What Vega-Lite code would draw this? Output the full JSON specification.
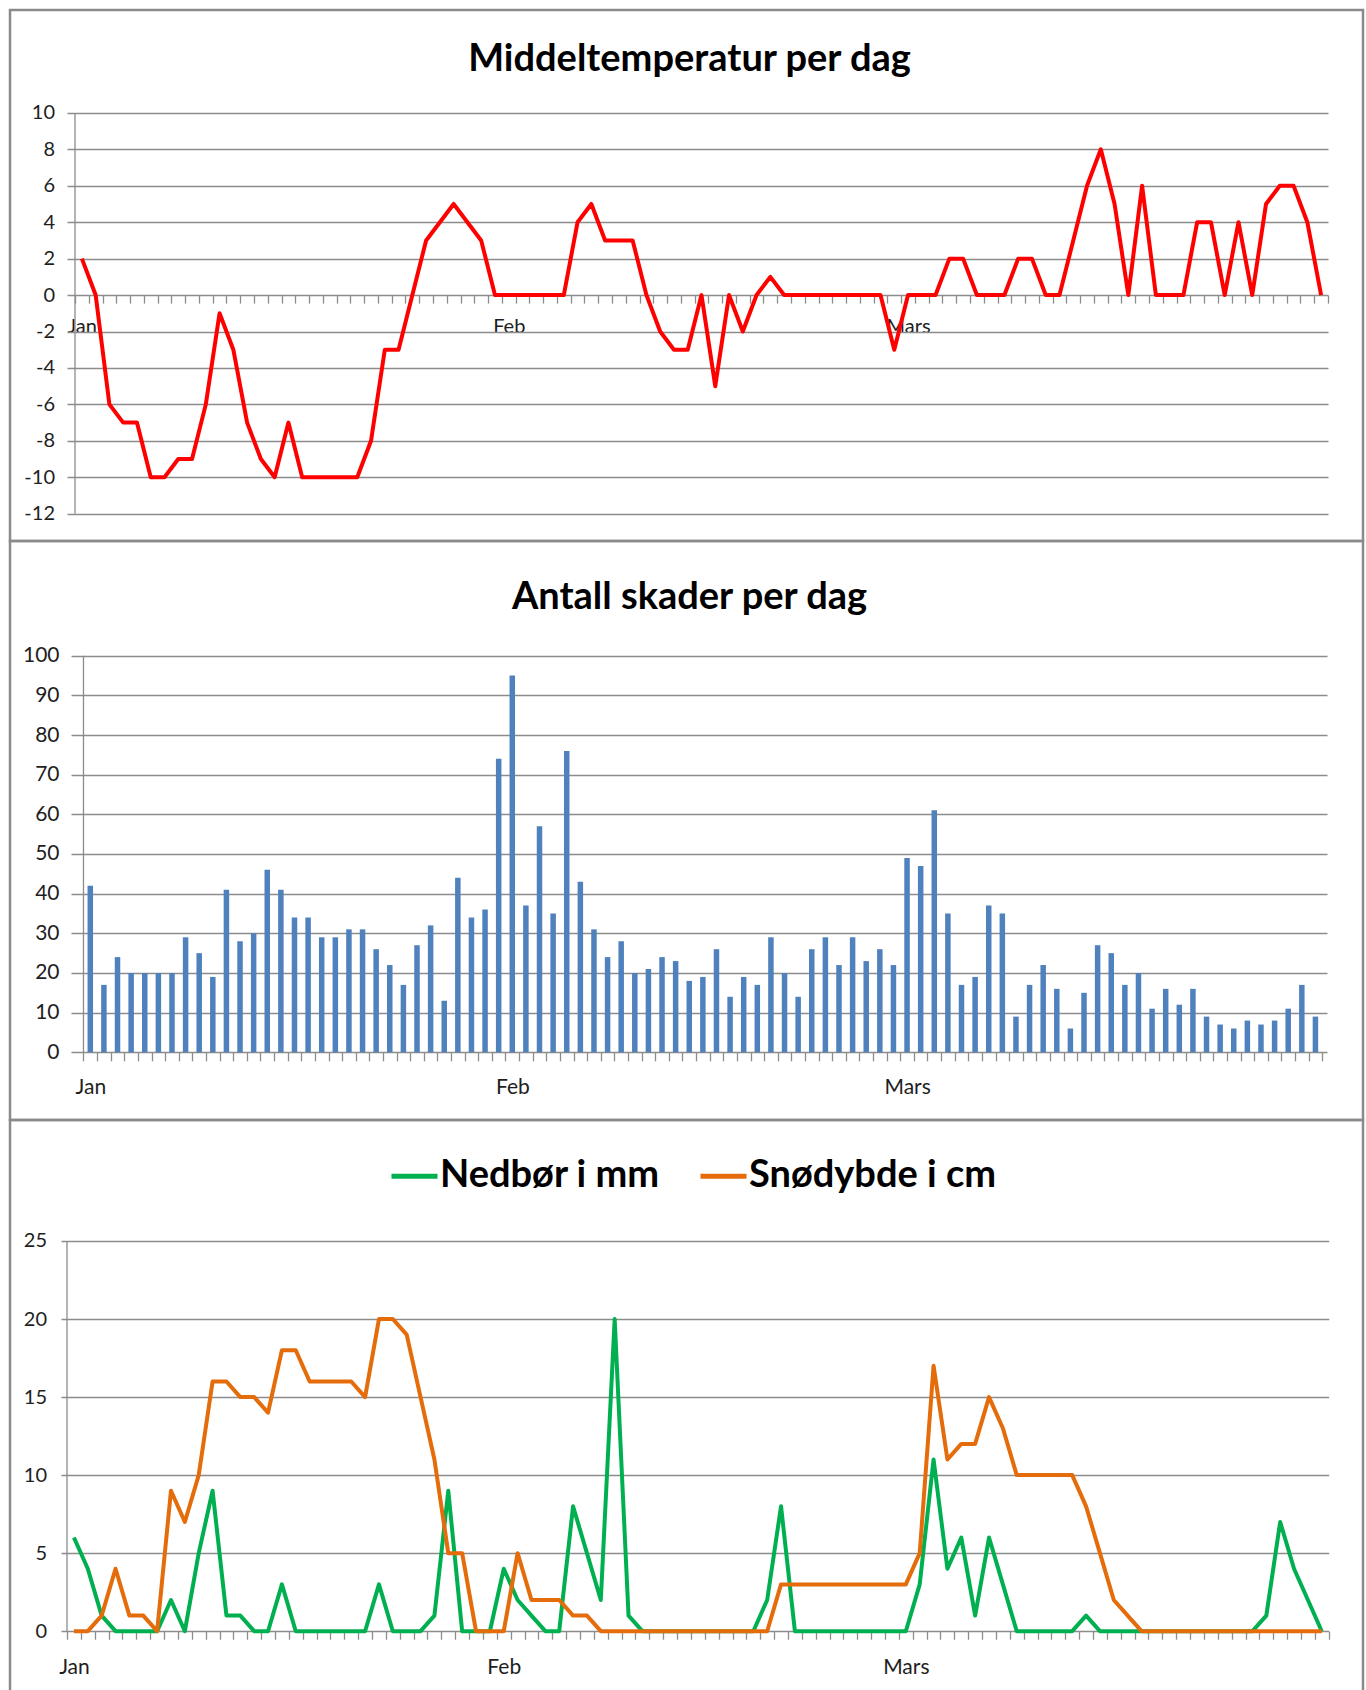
{
  "$schema": "https://vega.github.io/schema/vega-lite/v6.json",
  "background": "#ffffff",
  "padding": {"left": 8, "top": 8, "right": 0, "bottom": 0},
  "datasets": {
    "dager": [
      {"dato": "2012-01-01", "dag": 1, "temp": 2, "skader": 42, "nedbor": 6, "sno": 0},
      {"dato": "2012-01-02", "dag": 2, "temp": 0, "skader": 17, "nedbor": 4, "sno": 0},
      {"dato": "2012-01-03", "dag": 3, "temp": -6, "skader": 24, "nedbor": 1, "sno": 1},
      {"dato": "2012-01-04", "dag": 4, "temp": -7, "skader": 20, "nedbor": 0, "sno": 4},
      {"dato": "2012-01-05", "dag": 5, "temp": -7, "skader": 20, "nedbor": 0, "sno": 1},
      {"dato": "2012-01-06", "dag": 6, "temp": -10, "skader": 20, "nedbor": 0, "sno": 1},
      {"dato": "2012-01-07", "dag": 7, "temp": -10, "skader": 20, "nedbor": 0, "sno": 0},
      {"dato": "2012-01-08", "dag": 8, "temp": -9, "skader": 29, "nedbor": 2, "sno": 9},
      {"dato": "2012-01-09", "dag": 9, "temp": -9, "skader": 25, "nedbor": 0, "sno": 7},
      {"dato": "2012-01-10", "dag": 10, "temp": -6, "skader": 19, "nedbor": 5, "sno": 10},
      {"dato": "2012-01-11", "dag": 11, "temp": -1, "skader": 41, "nedbor": 9, "sno": 16},
      {"dato": "2012-01-12", "dag": 12, "temp": -3, "skader": 28, "nedbor": 1, "sno": 16},
      {"dato": "2012-01-13", "dag": 13, "temp": -7, "skader": 30, "nedbor": 1, "sno": 15},
      {"dato": "2012-01-14", "dag": 14, "temp": -9, "skader": 46, "nedbor": 0, "sno": 15},
      {"dato": "2012-01-15", "dag": 15, "temp": -10, "skader": 41, "nedbor": 0, "sno": 14},
      {"dato": "2012-01-16", "dag": 16, "temp": -7, "skader": 34, "nedbor": 3, "sno": 18},
      {"dato": "2012-01-17", "dag": 17, "temp": -10, "skader": 34, "nedbor": 0, "sno": 18},
      {"dato": "2012-01-18", "dag": 18, "temp": -10, "skader": 29, "nedbor": 0, "sno": 16},
      {"dato": "2012-01-19", "dag": 19, "temp": -10, "skader": 29, "nedbor": 0, "sno": 16},
      {"dato": "2012-01-20", "dag": 20, "temp": -10, "skader": 31, "nedbor": 0, "sno": 16},
      {"dato": "2012-01-21", "dag": 21, "temp": -10, "skader": 31, "nedbor": 0, "sno": 16},
      {"dato": "2012-01-22", "dag": 22, "temp": -8, "skader": 26, "nedbor": 0, "sno": 15},
      {"dato": "2012-01-23", "dag": 23, "temp": -3, "skader": 22, "nedbor": 3, "sno": 20},
      {"dato": "2012-01-24", "dag": 24, "temp": -3, "skader": 17, "nedbor": 0, "sno": 20},
      {"dato": "2012-01-25", "dag": 25, "temp": 0, "skader": 27, "nedbor": 0, "sno": 19},
      {"dato": "2012-01-26", "dag": 26, "temp": 3, "skader": 32, "nedbor": 0, "sno": 15},
      {"dato": "2012-01-27", "dag": 27, "temp": 4, "skader": 13, "nedbor": 1, "sno": 11},
      {"dato": "2012-01-28", "dag": 28, "temp": 5, "skader": 44, "nedbor": 9, "sno": 5},
      {"dato": "2012-01-29", "dag": 29, "temp": 4, "skader": 34, "nedbor": 0, "sno": 5},
      {"dato": "2012-01-30", "dag": 30, "temp": 3, "skader": 36, "nedbor": 0, "sno": 0},
      {"dato": "2012-01-31", "dag": 31, "temp": 0, "skader": 74, "nedbor": 0, "sno": 0},
      {"dato": "2012-02-01", "dag": 32, "temp": 0, "skader": 95, "nedbor": 4, "sno": 0},
      {"dato": "2012-02-02", "dag": 33, "temp": 0, "skader": 37, "nedbor": 2, "sno": 5},
      {"dato": "2012-02-03", "dag": 34, "temp": 0, "skader": 57, "nedbor": 1, "sno": 2},
      {"dato": "2012-02-04", "dag": 35, "temp": 0, "skader": 35, "nedbor": 0, "sno": 2},
      {"dato": "2012-02-05", "dag": 36, "temp": 0, "skader": 76, "nedbor": 0, "sno": 2},
      {"dato": "2012-02-06", "dag": 37, "temp": 4, "skader": 43, "nedbor": 8, "sno": 1},
      {"dato": "2012-02-07", "dag": 38, "temp": 5, "skader": 31, "nedbor": 5, "sno": 1},
      {"dato": "2012-02-08", "dag": 39, "temp": 3, "skader": 24, "nedbor": 2, "sno": 0},
      {"dato": "2012-02-09", "dag": 40, "temp": 3, "skader": 28, "nedbor": 20, "sno": 0},
      {"dato": "2012-02-10", "dag": 41, "temp": 3, "skader": 20, "nedbor": 1, "sno": 0},
      {"dato": "2012-02-11", "dag": 42, "temp": 0, "skader": 21, "nedbor": 0, "sno": 0},
      {"dato": "2012-02-12", "dag": 43, "temp": -2, "skader": 24, "nedbor": 0, "sno": 0},
      {"dato": "2012-02-13", "dag": 44, "temp": -3, "skader": 23, "nedbor": 0, "sno": 0},
      {"dato": "2012-02-14", "dag": 45, "temp": -3, "skader": 18, "nedbor": 0, "sno": 0},
      {"dato": "2012-02-15", "dag": 46, "temp": 0, "skader": 19, "nedbor": 0, "sno": 0},
      {"dato": "2012-02-16", "dag": 47, "temp": -5, "skader": 26, "nedbor": 0, "sno": 0},
      {"dato": "2012-02-17", "dag": 48, "temp": 0, "skader": 14, "nedbor": 0, "sno": 0},
      {"dato": "2012-02-18", "dag": 49, "temp": -2, "skader": 19, "nedbor": 0, "sno": 0},
      {"dato": "2012-02-19", "dag": 50, "temp": 0, "skader": 17, "nedbor": 0, "sno": 0},
      {"dato": "2012-02-20", "dag": 51, "temp": 1, "skader": 29, "nedbor": 2, "sno": 0},
      {"dato": "2012-02-21", "dag": 52, "temp": 0, "skader": 20, "nedbor": 8, "sno": 3},
      {"dato": "2012-02-22", "dag": 53, "temp": 0, "skader": 14, "nedbor": 0, "sno": 3},
      {"dato": "2012-02-23", "dag": 54, "temp": 0, "skader": 26, "nedbor": 0, "sno": 3},
      {"dato": "2012-02-24", "dag": 55, "temp": 0, "skader": 29, "nedbor": 0, "sno": 3},
      {"dato": "2012-02-25", "dag": 56, "temp": 0, "skader": 22, "nedbor": 0, "sno": 3},
      {"dato": "2012-02-26", "dag": 57, "temp": 0, "skader": 29, "nedbor": 0, "sno": 3},
      {"dato": "2012-02-27", "dag": 58, "temp": 0, "skader": 23, "nedbor": 0, "sno": 3},
      {"dato": "2012-02-28", "dag": 59, "temp": 0, "skader": 26, "nedbor": 0, "sno": 3},
      {"dato": "2012-02-29", "dag": 60, "temp": -3, "skader": 22, "nedbor": 0, "sno": 3},
      {"dato": "2012-03-01", "dag": 61, "temp": 0, "skader": 49, "nedbor": 0, "sno": 3},
      {"dato": "2012-03-02", "dag": 62, "temp": 0, "skader": 47, "nedbor": 3, "sno": 5},
      {"dato": "2012-03-03", "dag": 63, "temp": 0, "skader": 61, "nedbor": 11, "sno": 17},
      {"dato": "2012-03-04", "dag": 64, "temp": 2, "skader": 35, "nedbor": 4, "sno": 11},
      {"dato": "2012-03-05", "dag": 65, "temp": 2, "skader": 17, "nedbor": 6, "sno": 12},
      {"dato": "2012-03-06", "dag": 66, "temp": 0, "skader": 19, "nedbor": 1, "sno": 12},
      {"dato": "2012-03-07", "dag": 67, "temp": 0, "skader": 37, "nedbor": 6, "sno": 15},
      {"dato": "2012-03-08", "dag": 68, "temp": 0, "skader": 35, "nedbor": 3, "sno": 13},
      {"dato": "2012-03-09", "dag": 69, "temp": 2, "skader": 9, "nedbor": 0, "sno": 10},
      {"dato": "2012-03-10", "dag": 70, "temp": 2, "skader": 17, "nedbor": 0, "sno": 10},
      {"dato": "2012-03-11", "dag": 71, "temp": 0, "skader": 22, "nedbor": 0, "sno": 10},
      {"dato": "2012-03-12", "dag": 72, "temp": 0, "skader": 16, "nedbor": 0, "sno": 10},
      {"dato": "2012-03-13", "dag": 73, "temp": 3, "skader": 6, "nedbor": 0, "sno": 10},
      {"dato": "2012-03-14", "dag": 74, "temp": 6, "skader": 15, "nedbor": 1, "sno": 8},
      {"dato": "2012-03-15", "dag": 75, "temp": 8, "skader": 27, "nedbor": 0, "sno": 5},
      {"dato": "2012-03-16", "dag": 76, "temp": 5, "skader": 25, "nedbor": 0, "sno": 2},
      {"dato": "2012-03-17", "dag": 77, "temp": 0, "skader": 17, "nedbor": 0, "sno": 1},
      {"dato": "2012-03-18", "dag": 78, "temp": 6, "skader": 20, "nedbor": 0, "sno": 0},
      {"dato": "2012-03-19", "dag": 79, "temp": 0, "skader": 11, "nedbor": 0, "sno": 0},
      {"dato": "2012-03-20", "dag": 80, "temp": 0, "skader": 16, "nedbor": 0, "sno": 0},
      {"dato": "2012-03-21", "dag": 81, "temp": 0, "skader": 12, "nedbor": 0, "sno": 0},
      {"dato": "2012-03-22", "dag": 82, "temp": 4, "skader": 16, "nedbor": 0, "sno": 0},
      {"dato": "2012-03-23", "dag": 83, "temp": 4, "skader": 9, "nedbor": 0, "sno": 0},
      {"dato": "2012-03-24", "dag": 84, "temp": 0, "skader": 7, "nedbor": 0, "sno": 0},
      {"dato": "2012-03-25", "dag": 85, "temp": 4, "skader": 6, "nedbor": 0, "sno": 0},
      {"dato": "2012-03-26", "dag": 86, "temp": 0, "skader": 8, "nedbor": 0, "sno": 0},
      {"dato": "2012-03-27", "dag": 87, "temp": 5, "skader": 7, "nedbor": 1, "sno": 0},
      {"dato": "2012-03-28", "dag": 88, "temp": 6, "skader": 8, "nedbor": 7, "sno": 0},
      {"dato": "2012-03-29", "dag": 89, "temp": 6, "skader": 11, "nedbor": 4, "sno": 0},
      {"dato": "2012-03-30", "dag": 90, "temp": 4, "skader": 17, "nedbor": 2, "sno": 0},
      {"dato": "2012-03-31", "dag": 91, "temp": 0, "skader": 9, "nedbor": 0, "sno": 0}
    ]
  },
  "resolve": {"legend": {"color": "independent"}, "scale": {"color": "independent"}},
  "bounds": "flush",
  "spacing": 0,
  "vconcat": [
    {
      "width": 1353,
      "height": 531,
      "title": {"text": "Middeltemperatur per dag", "font": "Lato", "fontSize": 38, "fontWeight": "bold", "color": "#000000", "anchor": "middle", "frame": "group", "orient": "top", "baseline": "alphabetic", "offset": -99, "dx": 3},
      "layer": [
        {
          "data": {"name": "dager"},
          "mark": {"type": "line", "color": "#FF0000", "strokeWidth": 4, "strokeJoin": "round"},
          "encoding": {
            "x": {"field": "dag", "type": "quantitative", "scale": {"domain": [-4.2208, 94.043], "nice": false, "zero": false},
              "axis": {"orient": "bottom", "offset": -245.9, "title": null, "grid": false, "domain": false, "tickSize": 8, "tickColor": "#8c8c8c", "tickWidth": 1.3, "tickCount": 500,
                "values": [0.5,1.5,2.5,3.5,4.5,5.5,6.5,7.5,8.5,9.5,10.5,11.5,12.5,13.5,14.5,15.5,16.5,17.5,18.5,19.5,20.5,21.5,22.5,23.5,24.5,25.5,26.5,27.5,28.5,29.5,30.5,31.5,32.5,33.5,34.5,35.5,36.5,37.5,38.5,39.5,40.5,41.5,42.5,43.5,44.5,45.5,46.5,47.5,48.5,49.5,50.5,51.5,52.5,53.5,54.5,55.5,56.5,57.5,58.5,59.5,60.5,61.5,62.5,63.5,64.5,65.5,66.5,67.5,68.5,69.5,70.5,71.5,72.5,73.5,74.5,75.5,76.5,77.5,78.5,79.5,80.5,81.5,82.5,83.5,84.5,85.5,86.5,87.5,88.5,89.5,90.5,91.5],
                "labelExpr": "datum.value == 0.5 ? 'Jan' : datum.value == 31.5 ? 'Feb' : datum.value == 60.5 ? 'Mars' : ''",
                "labelOffset": 6.9, "labelPadding": 13, "labelAlign": "center", "labelBound": false, "labelFlush": false, "labelOverlap": false,
                "labelFont": "Lato", "labelFontSize": 20, "labelColor": "#1e1e1e"}},
            "y": {"field": "temp", "type": "quantitative", "scale": {"domain": [-13.499, 15.648], "nice": false, "zero": false},
              "axis": {"orient": "left", "offset": -1318, "title": null, "grid": false, "domain": false, "tickSize": 1261, "tickColor": "#8c8c8c", "tickWidth": 1.3,
                "values": [-12,-10,-8,-6,-4,-2,0,2,4,6,8,10], "labelExpr": "'' + datum.value", "labelPadding": 12.5, "labelOverlap": false, "labelBound": false,
                "labelFont": "Lato", "labelFontSize": 20, "labelColor": "#1e1e1e"}}
          }
        },
        {
          "data": {"values": [{}]},
          "mark": {"type": "rule", "color": "#8c8c8c", "strokeWidth": 1.3},
          "encoding": {
            "x": {"datum": 0.5, "type": "quantitative"},
            "y": {"datum": 10, "type": "quantitative"},
            "y2": {"datum": -12}
          }
        }
      ]
    },
    {
      "width": 1353,
      "height": 579,
      "title": {"text": "Antall skader per dag", "font": "Lato", "fontSize": 38, "fontWeight": "bold", "color": "#000000", "anchor": "middle", "frame": "group", "orient": "top", "baseline": "alphabetic", "offset": -105.8, "dx": 3},
      "layer": [
        {
          "data": {"name": "dager"},
          "mark": {"type": "bar", "color": "#4F81BD", "width": 5.5},
          "encoding": {
            "x": {"field": "dag", "type": "quantitative", "scale": {"domain": [-4.5314, 94.127], "nice": false, "zero": false},
              "axis": {"orient": "bottom", "offset": -67.7, "title": null, "grid": false, "domain": false, "tickSize": 8.5, "tickColor": "#8c8c8c", "tickWidth": 1.3, "tickCount": 500,
                "values": [0.5,1.5,2.5,3.5,4.5,5.5,6.5,7.5,8.5,9.5,10.5,11.5,12.5,13.5,14.5,15.5,16.5,17.5,18.5,19.5,20.5,21.5,22.5,23.5,24.5,25.5,26.5,27.5,28.5,29.5,30.5,31.5,32.5,33.5,34.5,35.5,36.5,37.5,38.5,39.5,40.5,41.5,42.5,43.5,44.5,45.5,46.5,47.5,48.5,49.5,50.5,51.5,52.5,53.5,54.5,55.5,56.5,57.5,58.5,59.5,60.5,61.5,62.5,63.5,64.5,65.5,66.5,67.5,68.5,69.5,70.5,71.5,72.5,73.5,74.5,75.5,76.5,77.5,78.5,79.5,80.5,81.5,82.5,83.5,84.5,85.5,86.5,87.5,88.5,89.5,90.5,91.5],
                "labelExpr": "datum.value == 0.5 ? 'Jan' : datum.value == 31.5 ? 'Feb' : datum.value == 60.5 ? 'Mars' : ''",
                "labelOffset": 6.86, "labelPadding": 15.3, "labelAlign": "center", "labelBound": false, "labelFlush": false, "labelOverlap": false,
                "labelFont": "Lato", "labelFontSize": 21, "labelColor": "#1e1e1e"}},
            "y": {"field": "skader", "type": "quantitative", "scale": {"domain": [-17.07, 128.92], "nice": false, "zero": false},
              "axis": {"orient": "left", "offset": -1317, "title": null, "grid": false, "domain": false, "tickSize": 1256, "tickColor": "#8c8c8c", "tickWidth": 1.3,
                "values": [0,10,20,30,40,50,60,70,80,90,100], "labelExpr": "'' + datum.value", "labelPadding": 12, "labelOverlap": false, "labelBound": false,
                "labelFont": "Lato", "labelFontSize": 21, "labelColor": "#1e1e1e"}},
            "y2": {"datum": 0}
          }
        },
        {
          "data": {"values": [{}]},
          "mark": {"type": "rule", "color": "#8c8c8c", "strokeWidth": 1.3},
          "encoding": {
            "x": {"datum": 0.5, "type": "quantitative"},
            "y": {"datum": 100, "type": "quantitative"},
            "y2": {"datum": 0}
          }
        }
      ]
    },
    {
      "width": 1353,
      "height": 581,
      "layer": [
        {
          "data": {"name": "dager"},
          "transform": [{"fold": ["nedbor", "sno"], "as": ["serie", "verdi"]}],
          "mark": {"type": "line", "strokeWidth": 4, "strokeJoin": "round"},
          "encoding": {
            "x": {"field": "dag", "type": "quantitative", "scale": {"domain": [-3.6111, 93.973], "nice": false, "zero": false},
              "axis": {"orient": "bottom", "offset": -69.8, "title": null, "grid": false, "domain": false, "tickSize": 8, "tickColor": "#8c8c8c", "tickWidth": 1.3, "tickCount": 500,
                "values": [0.5,1.5,2.5,3.5,4.5,5.5,6.5,7.5,8.5,9.5,10.5,11.5,12.5,13.5,14.5,15.5,16.5,17.5,18.5,19.5,20.5,21.5,22.5,23.5,24.5,25.5,26.5,27.5,28.5,29.5,30.5,31.5,32.5,33.5,34.5,35.5,36.5,37.5,38.5,39.5,40.5,41.5,42.5,43.5,44.5,45.5,46.5,47.5,48.5,49.5,50.5,51.5,52.5,53.5,54.5,55.5,56.5,57.5,58.5,59.5,60.5,61.5,62.5,63.5,64.5,65.5,66.5,67.5,68.5,69.5,70.5,71.5,72.5,73.5,74.5,75.5,76.5,77.5,78.5,79.5,80.5,81.5,82.5,83.5,84.5,85.5,86.5,87.5,88.5,89.5,90.5,91.5],
                "labelExpr": "datum.value == 0.5 ? 'Jan' : datum.value == 31.5 ? 'Feb' : datum.value == 60.5 ? 'Mars' : ''",
                "labelOffset": 6.93, "labelPadding": 17.6, "labelAlign": "center", "labelBound": false, "labelFlush": false, "labelOverlap": false,
                "labelFont": "Lato", "labelFontSize": 21, "labelColor": "#1e1e1e"}},
            "y": {"field": "verdi", "type": "quantitative", "scale": {"domain": [-4.472, 32.752], "nice": false, "zero": false},
              "axis": {"orient": "left", "offset": -1318.7, "title": null, "grid": false, "domain": false, "tickSize": 1267.7, "tickColor": "#8c8c8c", "tickWidth": 1.3,
                "values": [0,5,10,15,20,25], "labelExpr": "'' + datum.value", "labelPadding": 14.5, "labelOverlap": false, "labelBound": false,
                "labelFont": "Lato", "labelFontSize": 20, "labelColor": "#1e1e1e"}},
            "color": {"field": "serie", "type": "nominal",
              "scale": {"domain": ["nedbor", "sno"], "range": ["#00B050", "#E46C0A"]},
              "legend": {"orient": "none", "legendX": 379, "legendY": 30.5, "direction": "horizontal", "title": null,
                "labelExpr": "datum.label == 'nedbor' ? 'Nedbør i mm' : 'Snødybde i cm'",
                "labelFont": "Lato", "labelFontSize": 38, "labelFontWeight": "bold", "labelColor": "#000000", "labelLimit": 500,
                "symbolType": "stroke", "symbolSize": 2116, "symbolStrokeWidth": 5, "labelOffset": 0, "columnPadding": 30, "padding": 0}}
          }
        },
        {
          "data": {"values": [{}]},
          "mark": {"type": "rule", "color": "#8c8c8c", "strokeWidth": 1.3},
          "encoding": {
            "x": {"datum": 0.5, "type": "quantitative"},
            "y": {"datum": 25, "type": "quantitative"},
            "y2": {"datum": 0}
          }
        }
      ]
    }
  ],
  "config": {
    "font": "Lato",
    "view": {"stroke": "#8a8a8a", "strokeWidth": 2.5}
  }
}
